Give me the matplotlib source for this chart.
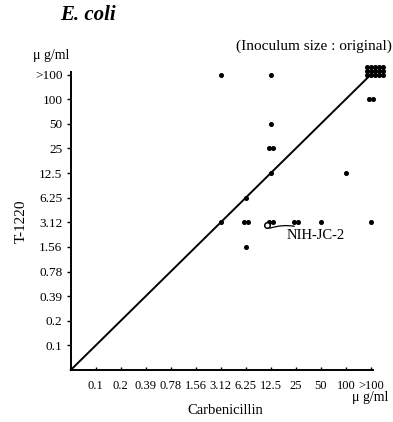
import math
import matplotlib
matplotlib.use('Agg')
import matplotlib.pyplot as plt

plt.rcParams['font.family'] = ['Liberation Serif', 'DejaVu Serif']

# MIC scale used on both axes (ug/ml)
mic_labels = ['0.1', '0.2', '0.39', '0.78', '1.56', '3.12', '6.25',
              '12.5', '25', '50', '100', '>100']

# strains: carbenicillin MIC, T-1220 MIC, number of strains
carb_mic = ['3.12', '12.5', '12.5', '12.5', '12.5', '6.25', '3.12', '6.25',
            '12.5', '25', '50', '>100', '6.25', '100', '>100', '>100']
t1220_mic = ['>100', '>100', '50', '25', '12.5', '6.25', '3.12', '3.12',
             '3.12', '3.12', '3.12', '3.12', '1.56', '12.5', '100', '>100']
n_strains = [1, 1, 1, 2, 1, 1, 1, 2, 2, 2, 1, 1, 1, 1, 2, 15]

# reference strain NIH-JC-2
ref_name = 'NIH-JC-2'
ref_carb = '12.5'
ref_t1220 = '3.12'

fig = plt.figure(figsize=(3.93, 4.22), dpi=100)
ax = fig.add_axes([0.180, 0.1232, 0.770, 0.706])

# spread several strains of the same cell into a small block of dots
xs = []
ys = []
step = 0.16
for c, t, n in zip(carb_mic, t1220_mic, n_strains):
    cx = mic_labels.index(c) + 1
    cy = mic_labels.index(t) + 1
    cols = min(n, 5)
    shift = 0.15 if n > 5 else 0
    for k in range(n):
        i = k // cols
        j = k % cols
        xs.append(cx + shift + (j - (cols - 1) / 2) * step)
        ys.append(cy + i * step)

ax.plot(xs, ys, 'o', color='black', markersize=2.6, clip_on=False, zorder=3)

rx = mic_labels.index(ref_carb) + 1 - 0.14
ry = mic_labels.index(ref_t1220) + 1 - 0.12
ax.plot([rx], [ry], 'o', markerfacecolor='white', markeredgecolor='black',
        markersize=4, markeredgewidth=1.1, zorder=4)
ax.annotate(ref_name, xy=(rx + 0.1, ry - 0.12), xytext=(8.65, 5.45),
            fontsize=10.5, va='center', ha='left',
            arrowprops=dict(arrowstyle='-', lw=0.9, color='black',
                            connectionstyle='arc3,rad=0.25', shrinkA=1, shrinkB=0))

# line of equal activity
diag = [0, len(mic_labels) + 0.2]
ax.plot(diag, diag, color='black', lw=1.4, clip_on=False)

ax.set_xlim(0, 12.1)
ax.set_ylim(0, 12.1)
ticks = list(range(1, len(mic_labels) + 1))
ax.set_xticks(ticks)
ax.set_xticklabels(mic_labels, fontsize=9)
ax.set_yticks(ticks)
ax.set_yticklabels(mic_labels, fontsize=9.5)
ax.tick_params(axis='x', direction='in', length=2.5, width=1, pad=7)
ax.tick_params(axis='y', direction='out', length=3, width=1, pad=3)
ax.spines['top'].set_visible(False)
ax.spines['right'].set_visible(False)
ax.spines['left'].set_linewidth(1.4)
ax.spines['bottom'].set_linewidth(1.4)

ax.set_ylabel('T-1220', fontsize=11, labelpad=5)
fig.text(225 / 393, 1 - 411 / 422, 'Carbenicillin', fontsize=10.5, ha='center', va='center')
fig.text(388 / 393, 1 - 398 / 422, 'μ g/ml', fontsize=10, ha='right', va='center')
fig.text(51 / 393, 1 - 56 / 422, 'μ g/ml', fontsize=10, ha='center', va='center')
fig.text(88 / 393, 1 - 15 / 422, 'E. coli', fontsize=15, fontweight='bold',
         fontstyle='italic', ha='center', va='center')
fig.text(392 / 393, 1 - 46 / 422, '(Inoculum size : original)', fontsize=11,
         ha='right', va='center')

fig.savefig('out.png', dpi=100)
